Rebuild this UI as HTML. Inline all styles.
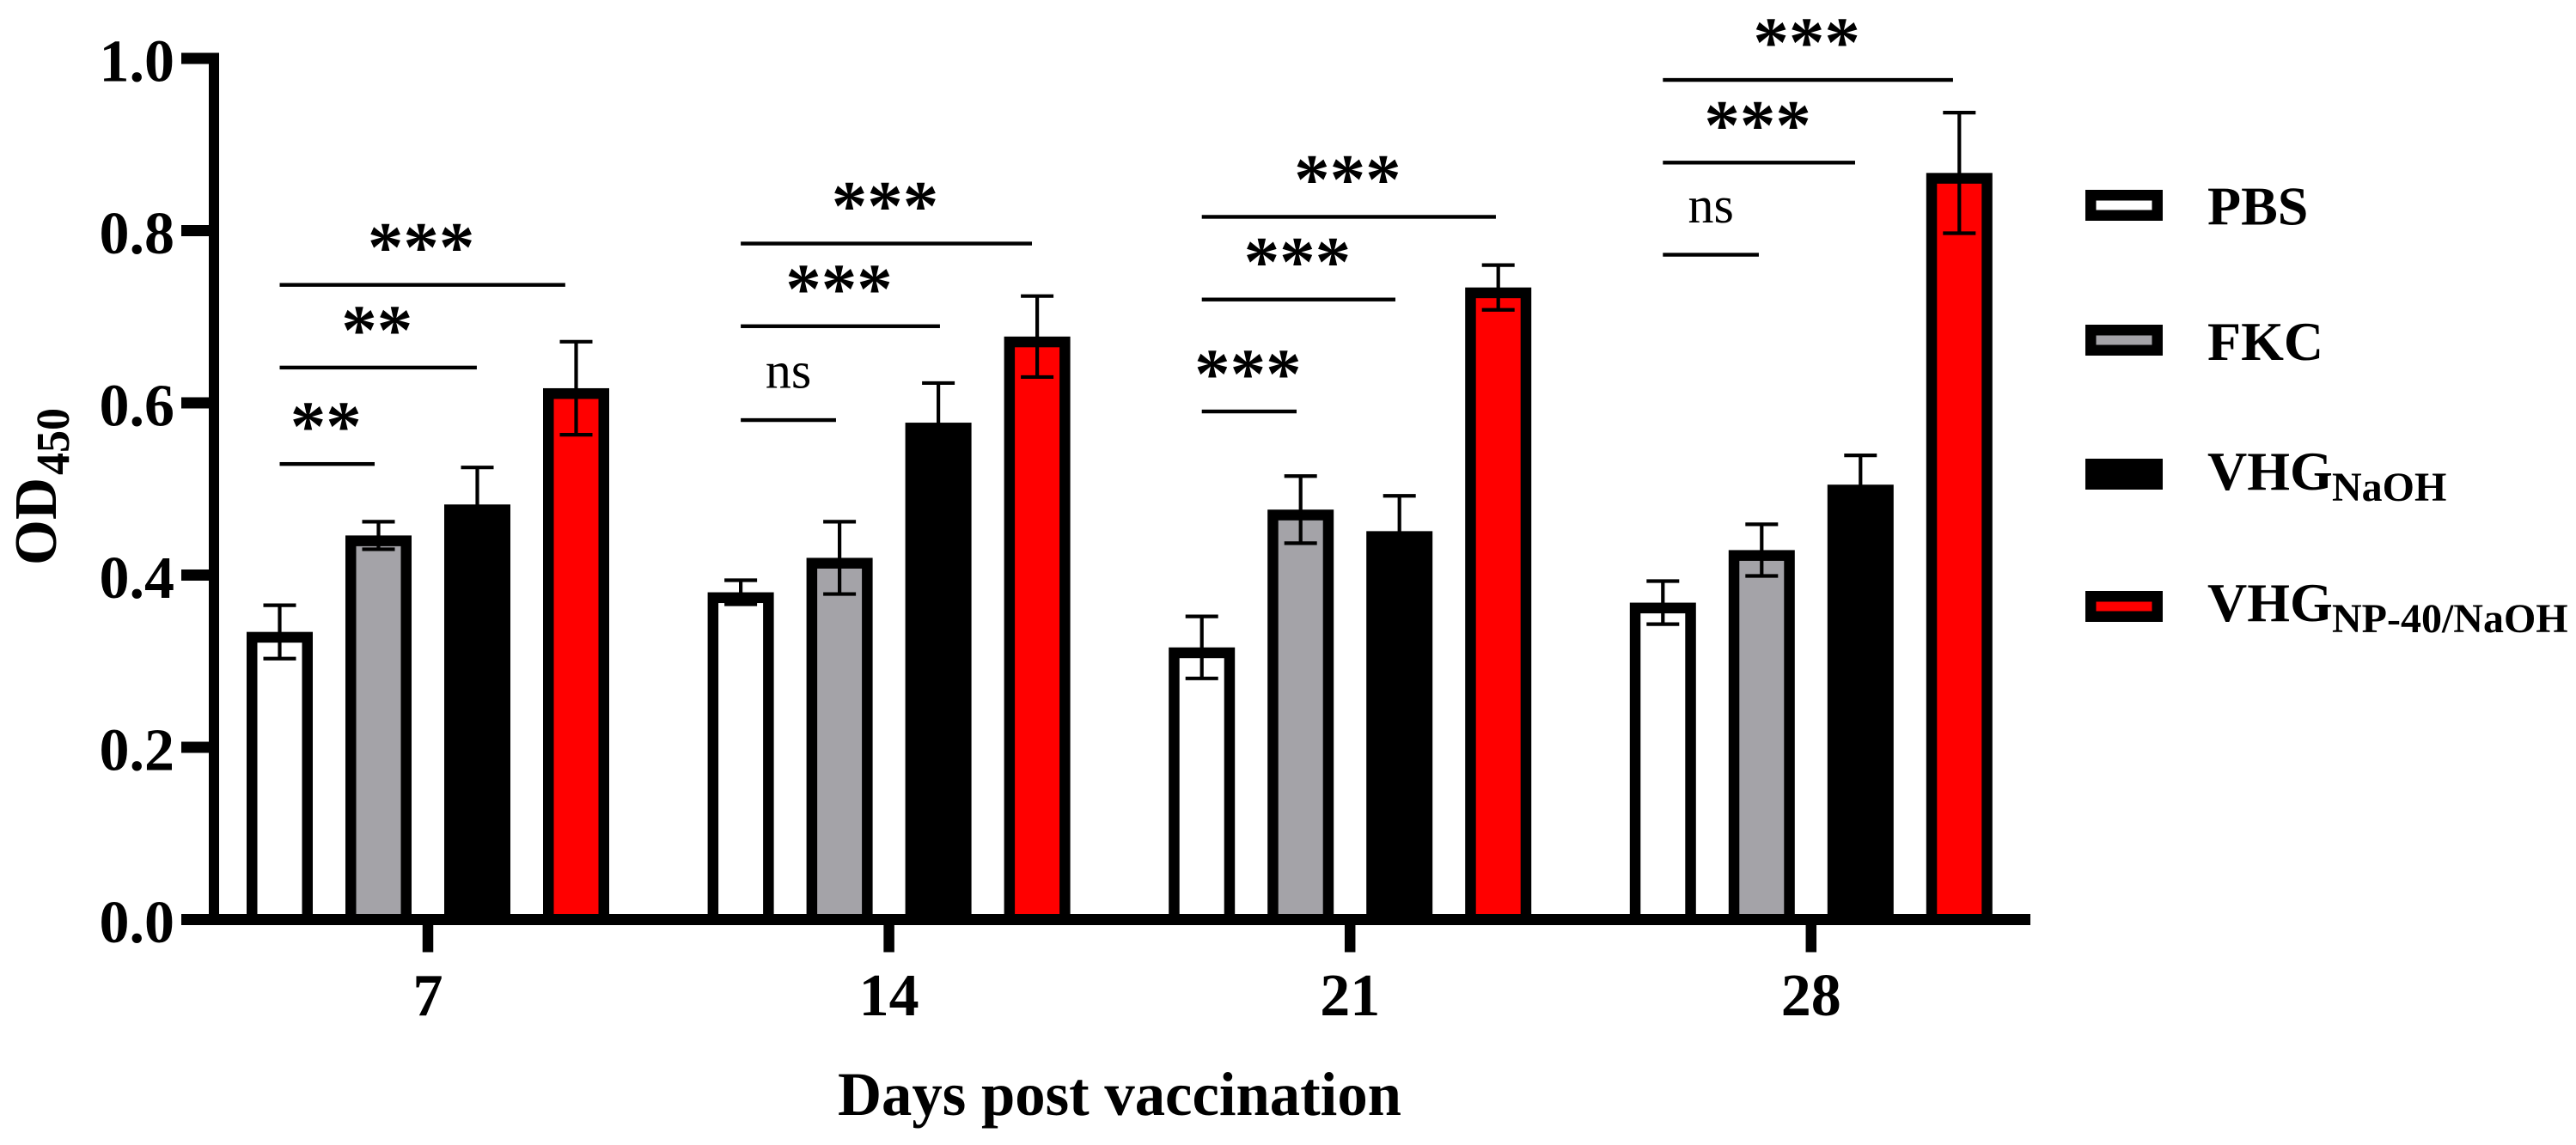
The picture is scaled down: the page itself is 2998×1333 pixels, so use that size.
<!DOCTYPE html>
<html lang="en">
<head>
<meta charset="utf-8">
<title>OD450 by days post vaccination</title>
<style>
html,body{margin:0;padding:0;background:#fff;}
svg{display:block;}
text{font-family:"Liberation Serif",serif;fill:#000;}
.b{font-weight:700;}
</style>
</head>
<body>
<svg id="chart" xmlns="http://www.w3.org/2000/svg" width="2998" height="1333" viewBox="0 0 2998 1333">
<rect x="0" y="0" width="2998" height="1333" fill="#fff"/>
<g id="bars"></g>
<g id="errors"></g>
<g id="axes"></g>
<g id="signif"></g>
<g id="legend"></g>
<text class="b" x="975" y="1298" font-size="72" textLength="656" lengthAdjust="spacingAndGlyphs">Days post vaccination</text>
<g transform="translate(65,658) rotate(-90)">
<text class="b" x="0" y="0" font-size="70" textLength="102" lengthAdjust="spacingAndGlyphs">OD</text>
<text class="b" x="105" y="15" font-size="55" textLength="78" lengthAdjust="spacingAndGlyphs">450</text>
</g>
</svg>
<script>
const categories = ['7', '14', '21', '28'];
const seriesNames = ['PBS', 'FKC', 'VHG-NaOH', 'VHG-NP-40-NaOH'];
const seriesFills = ['#ffffff', '#a4a3a8', '#000000', '#ff0000'];
const pbsValues = [0.334, 0.380, 0.316, 0.368];
const fkcValues = [0.446, 0.420, 0.476, 0.429];
const naohValues = [0.482, 0.577, 0.451, 0.505];
const npValues = [0.617, 0.677, 0.734, 0.867];
const pbsErrors = [0.031, 0.014, 0.036, 0.025];
const fkcErrors = [0.016, 0.042, 0.039, 0.030];
const naohErrors = [0.043, 0.046, 0.041, 0.034];
const npErrors = [0.054, 0.047, 0.026, 0.070];
const yTickValues = [0, 0.2, 0.4, 0.6, 0.8, 1.0];
const yTickLabels = ['0.0', '0.2', '0.4', '0.6', '0.8', '1.0'];
const bracketLevels7 = [0.529, 0.641, 0.737];
const bracketLevels14 = [0.580, 0.689, 0.785];
const bracketLevels21 = [0.590, 0.720, 0.816];
const bracketLevels28 = [0.772, 0.879, 0.975];
const bracketEndSlots7 = [0.961, 1.995, 2.89];
const bracketEndSlots14 = [0.964, 2.016, 2.947];
const bracketEndSlots21 = [0.959, 1.959, 2.976];
const bracketEndSlots28 = [0.971, 1.945, 2.936];
const bracketLabels7 = ['**', '**', '***'];
const bracketLabels14 = ['ns', '***', '***'];
const bracketLabels21 = ['***', '***', '***'];
const bracketLabels28 = ['ns', '***', '***'];

const allValues = [pbsValues, fkcValues, naohValues, npValues];
const allErrors = [pbsErrors, fkcErrors, naohErrors, npErrors];
const allLevels = [bracketLevels7, bracketLevels14, bracketLevels21, bracketLevels28];
const allEnds = [bracketEndSlots7, bracketEndSlots14, bracketEndSlots21, bracketEndSlots28];
const allLabels = [bracketLabels7, bracketLabels14, bracketLabels21, bracketLabels28];

const NS = 'http://www.w3.org/2000/svg';
const BASE_Y = 1070.5, PER_UNIT = 1002.5;
function yScale(v) { return BASE_Y - v * PER_UNIT; }
function groupX(g) { return 498 + 536.6 * g; }
function barX(g, s) { return groupX(g) + (s - 1.5) * 115; }
function make(tag, parent, props) {
  const el = document.createElementNS(NS, tag);
  for (const k in props) el.setAttribute(k, props[k]);
  parent.appendChild(el);
  return el;
}
const barsG = document.getElementById('bars');
const errG = document.getElementById('errors');
const axesG = document.getElementById('axes');
const sigG = document.getElementById('signif');
const legG = document.getElementById('legend');

/* bars + error bars */
const BAR_W = 77, BAR_SW = 12.5, AXIS_Y = 1070.5;
allValues.forEach(function (vals, s) {
  vals.forEach(function (v, g) {
    const cx = barX(g, s), top = yScale(v);
    const bar = make('rect', barsG, { x: cx - BAR_W / 2 + BAR_SW / 2, y: top + BAR_SW / 2, width: BAR_W - BAR_SW, height: AXIS_Y - top - BAR_SW / 2, fill: seriesFills[s], stroke: '#000', 'stroke-width': BAR_SW });
    
    
    const e = allErrors[s][g];
    const hi = yScale(v + e), lo = yScale(v - e);
    const whisk = make('path', errG, { d: 'M' + (cx - 19) + ' ' + hi + 'H' + (cx + 19) + 'M' + cx + ' ' + hi + 'V' + lo + 'M' + (cx - 19) + ' ' + lo + 'H' + (cx + 19), fill: 'none', stroke: '#000', 'stroke-width': 4.2 });
    
    
  });
});

/* axes */
const yLine = make('rect', axesG, { x: 243, y: yScale(1) - 6.5, width: 12, height: yScale(0) - yScale(1) + 13, fill: '#000' });


const xLine = make('rect', axesG, { x: 211, y: yScale(0) - 6.5, width: 2152, height: 13, fill: '#000' });


yTickValues.forEach(function (v, i) {
  const t = make('rect', axesG, { x: 211, y: yScale(v) - 6.5, width: 34, height: 13, fill: '#000' });
  
  
  const l = make('text', axesG, { x: 203, y: yScale(v) + 26.5, 'font-size': 70, 'text-anchor': 'end', class: 'b' });
  l.textContent = yTickLabels[i];
  
  
});
categories.forEach(function (c, g) {
  const t = make('rect', axesG, { x: groupX(g) - 6.25, y: yScale(0), width: 12.5, height: 38, fill: '#000' });
  
  
  const l = make('text', axesG, { x: groupX(g), y: 1182, 'font-size': 70, 'text-anchor': 'middle', class: 'b' });
  l.textContent = c;
  
  
});

/* significance brackets */
allLevels.forEach(function (levels, g) {
  levels.forEach(function (lv, i) {
    const x0 = barX(g, 0), x1 = barX(g, allEnds[g][i]), y = yScale(lv);
    const line = make('rect', sigG, { x: x0, y: y - 2.2, width: x1 - x0, height: 4.4, fill: '#000' });
    
    
    const lab = allLabels[g][i];
    const isNs = lab === 'ns';
    const t = make('text', sigG, { x: (x0 + x1) / 2 - (isNs ? 0 : 1.5), y: isNs ? y - 37.6 : y - 16, 'font-size': isNs ? 60 : 83, 'text-anchor': 'middle', class: isNs ? '' : 'b' });
    t.textContent = lab;
    
    
  });
});

/* legend */
const legendTitles = ['PBS', 'FKC', 'VHG', 'VHG'];
const legendSubs = ['', '', 'NaOH', 'NP-40/NaOH'];
const legendRowTops = [221, 378, 534, 688];
const legendBaselines = [261.5, 419, 570, 723];
legendTitles.forEach(function (title, i) {
  const sw = make('rect', legG, { x: 2433.25, y: legendRowTops[i] + 6.25, width: 77.5, height: 23.5, fill: seriesFills[i], stroke: '#000', 'stroke-width': 12.5 });
  
  
  const t = make('text', legG, { x: 2569, y: legendBaselines[i], 'font-size': 64, class: 'b' });
  t.textContent = title;
  
  
  if (legendSubs[i]) {
    const st = make('text', legG, { x: 2714, y: legendBaselines[i] + 13, 'font-size': 48, class: 'b' });
    st.textContent = legendSubs[i];
    
    
  }
});
</script>
</body>
</html>
